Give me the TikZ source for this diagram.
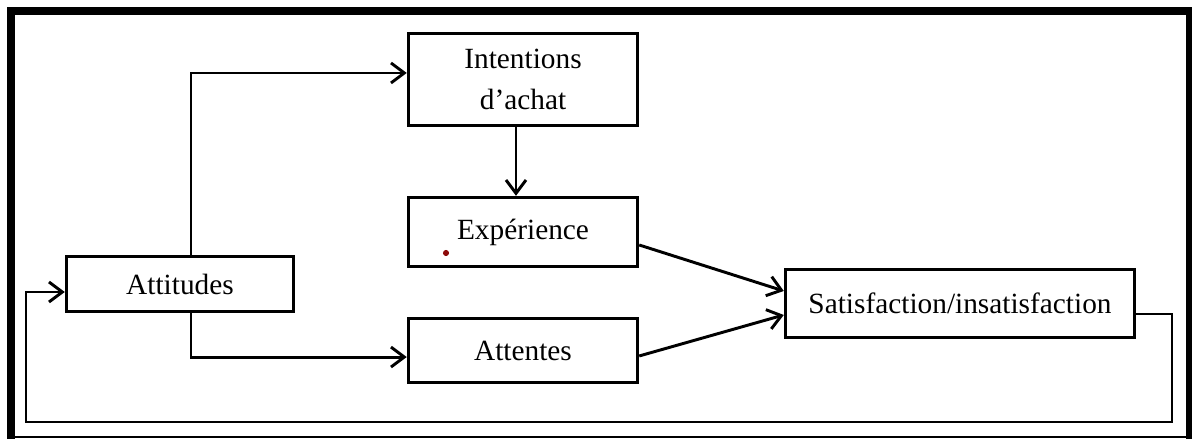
\documentclass[tikz,border=0pt]{standalone}
\usepackage{fontspec}
\setmainfont{Liberation Serif}
\usetikzlibrary{arrows.meta}
\definecolor{dotred}{RGB}{140,10,10}
\begin{document}
\begin{tikzpicture}[x=0.75pt,y=-0.75pt,
  box/.style={draw=black,line width=2.6pt,rectangle,inner sep=0pt,align=center,
    font=\fontsize{22pt}{31pt}\selectfont},
  arr/.style={line width=2.2pt,-{Straight Barb[length=10pt,width=15pt,line width=2.2pt]}},
  frame/.style={fill=black}]
\useasboundingbox (0,0) rectangle (1192,439);
% outer frame
\fill[frame] (7,7) rectangle (1192,15);
\fill[frame] (7,7) rectangle (15,439);
\fill[frame] (1186,7) rectangle (1192,439);
\draw[line width=1.3pt] (15,437) -- (1186,437);
% boxes
\node[box,minimum width=171.75pt,minimum height=69pt] (int) at (523,79.5) {Intentions\\d’achat};
\node[box,minimum width=171.75pt,minimum height=51.75pt] (exp) at (523,232) {Expérience};
\node[box,minimum width=170.25pt,minimum height=41.25pt] (att) at (180,284) {Attitudes};
\node[box,minimum width=171.75pt,minimum height=48pt] (atn) at (523,350.5) {Attentes};
\node[box,minimum width=261.75pt,minimum height=51pt] (sat) at (960,303.5) {Satisfaction/insatisfaction};
\fill[dotred] (446,253) circle[radius=2.3pt];
% connectors
\draw[arr] ([xshift=8.25pt]att.north) |- ([yshift=4.9pt]int.west);
\draw[arr] ([xshift=8.25pt]att.south) |- ([yshift=-4.9pt]atn.west);
\draw[arr] ([xshift=-5.25pt]int.south) -- ([xshift=-5.25pt]exp.north);
\draw[arr] ([yshift=-9.75pt]exp.east) -- ([yshift=9.4pt]sat.west);
\draw[arr] ([yshift=-4.1pt]atn.east) -- ([yshift=-8.6pt]sat.west);
\coordinate (c1) at (1172,422);
\coordinate (c2) at (26,422);
\draw[arr,line width=2pt] ([yshift=-7.9pt]sat.east) -| (c1) -- (c2) |- ([yshift=-6pt]att.west);
\end{tikzpicture}
\end{document}
